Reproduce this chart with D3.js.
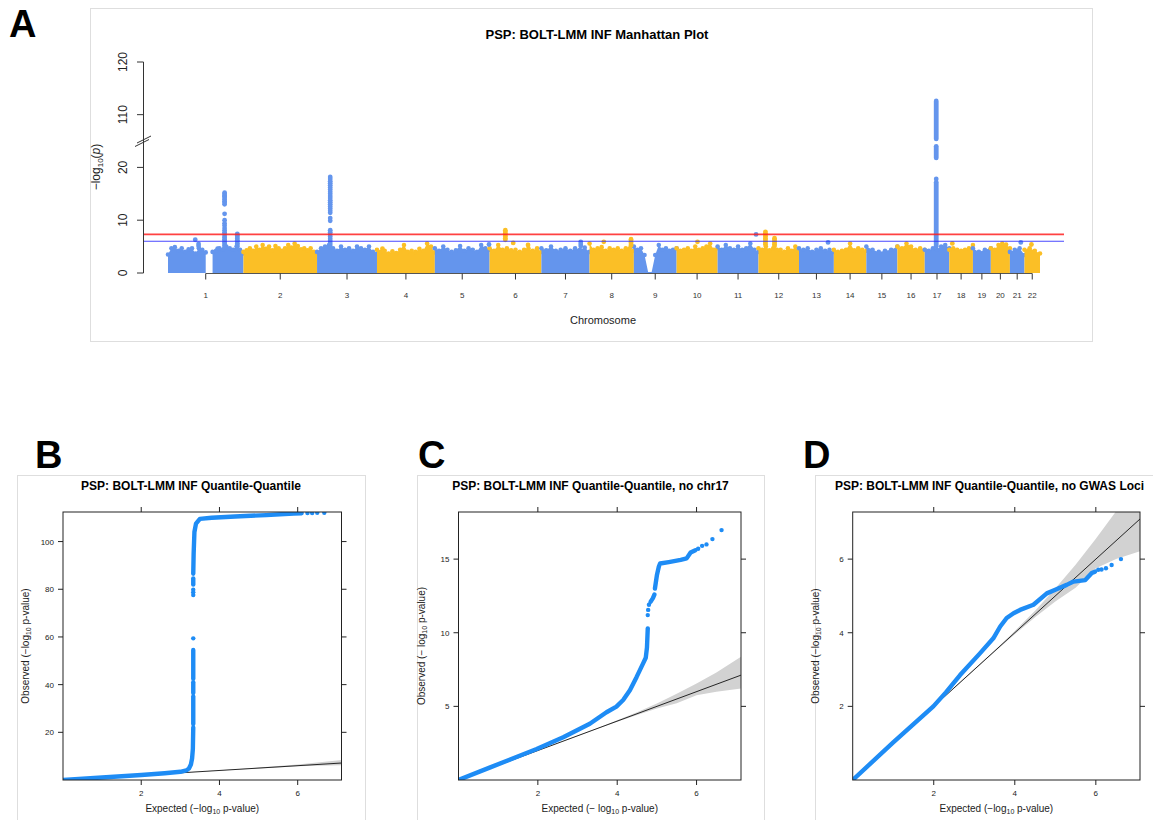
<!DOCTYPE html>
<html>
<head>
<meta charset="utf-8">
<script src="https://cdn.jsdelivr.net/npm/d3@7"></script>
<style>
  body { margin: 0; background: #fff; font-family: "Liberation Sans", Arial, sans-serif; }
</style>
</head>
<body>
<svg id="fig" width="1153" height="820"></svg>
<script>
// ---- données du Manhattan plot
const chromosomes = ["1","2","3","4","5","6","7","8","9","10","11","12","13","14","15","16","17","18","19","20","21","22"];
const tailles = [249.25,243.2,198.02,191.15,180.92,171.12,159.14,146.36,141.21,135.53,135.01,133.85,115.17,107.35,102.53,90.35,81.2,78.08,59.13,63.03,48.13,51.3]; // Mb
const couleurs = ["#6495ED", "#FBBF26"];

// hauteur de la masse de points le long de chaque chromosome (-log10 p), 0 = trou
const profils = [
  [3.5,4.7,4.9,4.2,4.7,4.0,4.5,4.7,3.7,4.7,4.4,3.9,0,4.0,4.2,4.7,4.4,5.0,4.7,4.4,5.0,4.4,3.7],
  [4.0,4.3,4.7,4.2,5.0,4.4,5.3,4.6,5.0,4.3,5.1,4.7,4.2,4.7,5.3,4.8,5.6,5.1,4.5,4.7,4.3,4.7,4.0,3.7],
  [4.0,4.7,5.0,5.3,4.7,4.2,5.0,4.4,4.7,4.2,5.0,4.7,4.4,5.0,4.0,3.7],
  [4.4,4.0,4.2,3.7,4.1,3.8,4.4,5.3,4.0,4.2,4.0,4.6,4.2,5.6,5.0,3.9],
  [4.7,4.2,5.0,4.4,4.0,4.3,5.1,4.2,4.7,4.4,4.0,5.3,4.7,4.4],
  [4.7,4.2,5.3,4.4,4.7,4.3,4.4,4.0,4.4,4.7,4.2,4.7,4.0],
  [4.7,4.3,5.0,4.2,4.4,4.7,4.2,4.7,4.4,4.8,4.0],
  [5.6,4.4,4.7,4.9,4.2,4.7,4.4,4.7,4.2,4.7,4.7,4.2],
  [5.0,4.4,4.7,3.4,0.2,0.2,3.4,5.3,4.4,4.7,4.2,4.4,4.7],
  [4.7,4.2,4.4,4.7,4.2,5.0,4.4,4.7,5.0,5.6,4.4,4.7],
  [5.0,4.4,5.3,4.7,4.4,5.0,4.4,4.7,5.6,4.4,4.0],
  [4.7,4.4,5.0,4.3,4.7,4.4,4.4,4.0,4.7,4.2,5.0,4.0],
  [4.7,4.4,4.7,4.0,4.4,4.7,4.2,4.4,4.0],
  [4.4,4.0,4.2,4.4,5.6,4.3,4.7,4.4,4.2],
  [5.0,4.4,4.0,4.2,4.4,5.0],
  [5.0,4.7,5.6,5.0,4.4,4.7,4.4],
  [4.4,4.2,4.7,4.4,5.0,5.3,4.7],
  [4.4,4.7,4.4,4.2,4.4,4.7,5.3],
  [4.7,4.0,4.4,4.7],
  [4.7,4.4,5.3,5.6,5.4,4.7],
  [4.0,4.4,4.7,3.4],
  [4.4,4.7,4.2,3.7]
];

// SNP isolés et pics : [chromosome, position (Mb), valeurs]
const pics = [
  [1, 90, [6.3]],
  [1, 101, [5.5, 5.1]],
  [1, 164, [4.6]],
  [1, 187, [15.2,15.0,14.7,14.5,14.2,13.9,13.6,13.3,13.0,11.2,10.0,9.4,9.0,8.5,8.1,7.7,7.4,7.0,6.7,6.4,6.1,5.8,5.5,5.2,4.9]],
  [1, 229, [7.4,7.1,6.8,6.5,6.2,5.9,5.6,5.3,5.0]],
  [3, 43.5, [18.2,17.8,17.4,17.0,16.6,16.2,15.8,15.4,15.0,14.6,14.2,13.8,13.4,13.0,12.6,12.2,11.8,11.4,10.4,9.9,8.1,7.7,7.3,6.9,6.5,6.1,5.7,5.3,4.9]],
  [4, 18, [4.6]],
  [5, 179, [5.4]],
  [6, 52, [8.1,7.8,7.5,7.2,6.9,6.6,6.3]],
  [6, 78, [5.7]],
  [6, 127, [5.3]],
  [7, 130, [5.9,5.5,5.1]],
  [8, 47, [5.9]],
  [8, 137, [6.4,6.1,5.8,5.5,5.2]],
  [10, 69, [5.9]],
  [11, 127, [7.3]],
  [12, 23, [7.8,7.5,7.2,6.9,6.6,6.3,6.0,5.7,5.4]],
  [12, 53, [6.6,6.3,6.0,5.7,5.4,5.1]],
  [13, 96, [5.8]],
  [17, 38, [17.8]],
  [18, 10, [5.6]],
  [21, 36, [5.8]],
  [22, 23, [5.4]]
];
// colonnes denses : [chromosome, position, bas, haut]
const colonnes = [
  [17, 38, 5.0, 17.2],
  [17, 38, 21.8, 24.0],
  [17, 38, 105.4, 112.6]
];
const seuilGenome = 7.3;
const seuilSuggestif = 6;
const ticksY_A = [0, 10, 20, 110, 120];

// ---- données des QQ plots
const bandeX    = [0, 3.5, 4, 4.5, 5, 5.5, 6, 6.5, 7.2];
const bandeHaut = [0, 3.52, 4.05, 4.6, 5.2, 5.85, 6.55, 7.3, 8.5];
const bandeBas  = [0, 3.48, 3.96, 4.42, 4.85, 5.22, 5.75, 6.0, 6.25];

const qqB_traits = [
  [[0,0],[1,1.05],[2,2.1],[2.6,2.85],[3.0,3.45],[3.15,4.0],[3.22,4.8],[3.27,6.5],[3.3,9],[3.32,13],[3.33,22]],
  [[3.33,23.5],[3.33,35]],
  [[3.33,36.5],[3.33,41]],
  [[3.33,42.5],[3.33,54.5]],
  [[3.33,82],[3.33,84.5]],
  [[3.33,86.5],[3.34,95],[3.36,104],[3.4,107.5],[3.5,109.5],[3.8,110],[4.4,110.5],[5.2,111.1],[5.9,111.8],[6.1,111.9]]
];
const qqB_points = [[3.33,59.4],[3.33,77.6],[3.33,78.7],[3.33,79.8],[6.25,112],[6.37,112],[6.5,112.05],[6.68,112.1]];

const qqC_traits = [
  [[0,0],[0.8,0.86],[1.97,2.1],[2.64,2.9],[3.31,3.82],[3.73,4.6],[3.98,4.98],[4.15,5.43],[4.32,6.1],[4.49,7.0],[4.65,7.9],[4.72,8.3],[4.75,9.0],[4.77,10.3]],
  [[4.84,12.1],[4.9,12.35],[4.94,12.6]],
  [[4.95,13.0],[5.0,13.9],[5.05,14.5],[5.08,14.7],[5.3,14.8],[5.6,14.95],[5.75,15.05],[5.85,15.45],[5.97,15.6]]
];
const qqC_points = [[4.77,11.2],[4.78,11.55],[4.8,11.9],[6.04,15.7],[6.14,15.9],[6.25,16.0],[6.4,16.36],[6.63,16.97]];

const qqD_traits = [
  [[0,0],[1.0,1.02],[1.99,2.0],[2.3,2.38],[2.65,2.85],[3.14,3.44],[3.47,3.85],[3.64,4.17],[3.8,4.4],[3.97,4.53],[4.13,4.62],[4.46,4.76],[4.79,5.07],[5.0,5.17],[5.28,5.3],[5.45,5.39],[5.74,5.43],[5.9,5.62],[5.98,5.66]]
];
const qqD_points = [[6.06,5.71],[6.14,5.72],[6.25,5.75],[6.39,5.84],[6.62,6.0]];

const svg = d3.select("#fig");
svg.append("rect").attr("width", 1153).attr("height", 820).attr("fill", "#fff");

// =================== Panneau A : Manhattan
const gA = svg.append("g");
gA.append("rect").attr("x", 90.5).attr("y", 8.5).attr("width", 1002).attr("height", 333)
  .attr("fill", "none").attr("stroke", "#dedede");
svg.append("text").attr("x", 9).attr("y", 37).attr("font-size", 38).attr("font-weight", "bold").text("A");

const debuts = Array.from(d3.cumsum([0, ...tailles]));
const total = d3.sum(tailles);
const x = d3.scaleLinear().domain([0, total]).range([168, 1040]);
const y = d3.scaleLinear().domain([0, 25, 105, 120]).range([273, 141, 141, 62]);

gA.append("text").attr("x", 597).attr("y", 39).attr("text-anchor", "middle")
  .attr("font-size", 13).attr("font-weight", "bold").text("PSP: BOLT-LMM INF Manhattan Plot");

// masse de points
const aire = d3.area().defined(d => d.v > 0).x(d => d.x).y0(y(0)).y1(d => y(d.v));
profils.forEach((prof, i) => {
  const pts = prof.map((v, j) => ({ x: x(debuts[i] + j / (prof.length - 1) * tailles[i]), v: v }));
  gA.append("path").datum(pts).attr("d", aire).attr("fill", couleurs[i % 2]);
  gA.append("g").selectAll("circle")
    .data(pts.filter(d => d.v > 1))
    .join("circle")
    .attr("cx", d => d.x).attr("cy", d => y(d.v)).attr("r", 2.3)
    .attr("fill", couleurs[i % 2]);
});

// colonnes denses
colonnes.forEach(c => {
  const cx = x(debuts[c[0] - 1] + c[1]);
  gA.append("line").attr("x1", cx).attr("x2", cx).attr("y1", y(c[2])).attr("y2", y(c[3]))
    .attr("stroke", couleurs[(c[0] - 1) % 2]).attr("stroke-width", 4.8).attr("stroke-linecap", "round");
});

// pics
pics.forEach(p => {
  const cx = x(debuts[p[0] - 1] + p[1]);
  gA.append("g").selectAll("circle")
    .data(p[2])
    .join("circle")
    .attr("cx", cx).attr("cy", d => y(d)).attr("r", 2.4)
    .attr("fill", couleurs[(p[0] - 1) % 2]);
});

// seuils
gA.append("line").attr("x1", 143).attr("x2", 1064).attr("y1", y(seuilGenome)).attr("y2", y(seuilGenome))
  .attr("stroke", "#ff2020").attr("stroke-width", 1.8).attr("opacity", 0.85);
gA.append("line").attr("x1", 143).attr("x2", 1064).attr("y1", y(seuilSuggestif)).attr("y2", y(seuilSuggestif))
  .attr("stroke", "#2a2aff").attr("stroke-width", 1.1).attr("opacity", 0.85);

// axe Y
gA.append("line").attr("x1", 143.5).attr("x2", 143.5).attr("y1", y(120)).attr("y2", y(0)).attr("stroke", "#333");
ticksY_A.forEach(t => {
  gA.append("line").attr("x1", 137).attr("x2", 143.5).attr("y1", y(t)).attr("y2", y(t)).attr("stroke", "#333");
  gA.append("text").attr("transform", `translate(127,${y(t)}) rotate(-90)`)
    .attr("text-anchor", "middle").attr("font-size", 12).attr("fill", "#222").text(t);
});
// coupure de l'axe
gA.append("line").attr("x1", 135).attr("y1", 146.5).attr("x2", 149).attr("y2", 139.5).attr("stroke", "#333");
gA.append("line").attr("x1", 137).attr("y1", 143).attr("x2", 151).attr("y2", 136).attr("stroke", "#333");

const labY = gA.append("text").attr("transform", "translate(100,167) rotate(-90)")
  .attr("text-anchor", "middle").attr("font-size", 12).attr("fill", "#222");
labY.append("tspan").text("\u2212log");
labY.append("tspan").attr("font-size", 8).attr("dy", 3).text("10");
labY.append("tspan").attr("dy", -3).text("(");
labY.append("tspan").attr("font-style", "italic").text("p");
labY.append("tspan").text(")");

// axe X
const milieux = chromosomes.map((c, i) => x(debuts[i] + tailles[i] / 2));
gA.append("line").attr("x1", milieux[0]).attr("x2", milieux[21]).attr("y1", 273.5).attr("y2", 273.5).attr("stroke", "#555");
gA.append("g").selectAll("line").data(milieux).join("line")
  .attr("x1", d => d).attr("x2", d => d).attr("y1", 273.5).attr("y2", 279.5).attr("stroke", "#333");
gA.append("g").selectAll("text").data(chromosomes).join("text")
  .attr("x", (d, i) => milieux[i]).attr("y", 298).attr("text-anchor", "middle")
  .attr("font-size", 8).attr("fill", "#333").text(d => d);
gA.append("text").attr("x", 603).attr("y", 324).attr("text-anchor", "middle")
  .attr("font-size", 11).attr("fill", "#222").text("Chromosome");

// =================== Panneaux QQ
const bleuQQ = "#1E8CF5";
const bande = bandeX.map((v, i) => [v, bandeBas[i], bandeHaut[i]]);

function panneauQQ(cfg) {
  const g = svg.append("g");
  g.append("rect").attr("x", cfg.cadre[0] + 0.5).attr("y", 475.5).attr("width", cfg.cadre[1] - cfg.cadre[0])
    .attr("height", 400).attr("fill", "none").attr("stroke", "#dedede");
  svg.append("text").attr("x", cfg.lettreX).attr("y", 468).attr("font-size", 38).attr("font-weight", "bold").text(cfg.lettre);
  g.append("text").attr("x", cfg.titreX).attr("y", 490).attr("text-anchor", "middle")
    .attr("font-size", 12).attr("font-weight", "bold").text(cfg.titre);

  const sx = d3.scaleLinear().domain([0, cfg.xMax]).range([cfg.x0, cfg.x1]);
  const sy = d3.scaleLinear().domain([0, cfg.yMax]).range([780, 512]);

  const idClip = "clip" + cfg.lettre;
  g.append("clipPath").attr("id", idClip).append("rect")
    .attr("x", cfg.x0).attr("y", 512).attr("width", cfg.x1 - cfg.x0).attr("height", 268);
  const gp = g.append("g").attr("clip-path", `url(#${idClip})`);

  gp.append("path").datum(bande)
    .attr("d", d3.area().x(d => sx(d[0])).y0(d => sy(d[1])).y1(d => sy(d[2])))
    .attr("fill", "#d2d2d2");
  gp.append("line").attr("x1", sx(0)).attr("y1", sy(0)).attr("x2", sx(cfg.xMax)).attr("y2", sy(cfg.xMax))
    .attr("stroke", "#111").attr("stroke-width", 0.9);

  const ligne = d3.line().x(d => sx(d[0])).y(d => sy(d[1]));
  gp.selectAll("path.trait").data(cfg.traits).join("path").attr("class", "trait")
    .attr("d", ligne).attr("fill", "none").attr("stroke", bleuQQ).attr("stroke-width", 4.4)
    .attr("stroke-linecap", "round").attr("stroke-linejoin", "round");
  gp.selectAll("circle").data(cfg.points).join("circle")
    .attr("cx", d => sx(d[0])).attr("cy", d => sy(d[1])).attr("r", 2.2).attr("fill", bleuQQ);

  g.append("rect").attr("x", cfg.x0).attr("y", 512).attr("width", cfg.x1 - cfg.x0).attr("height", 268)
    .attr("fill", "none").attr("stroke", "#222");

  cfg.ticksY.forEach(t => {
    g.append("line").attr("x1", cfg.x0 - 5).attr("x2", cfg.x0).attr("y1", sy(t)).attr("y2", sy(t)).attr("stroke", "#222");
    g.append("line").attr("x1", cfg.x1).attr("x2", cfg.x1 + 5).attr("y1", sy(t)).attr("y2", sy(t)).attr("stroke", "#222");
    g.append("text").attr("x", cfg.x0 - 9).attr("y", sy(t) + 3).attr("text-anchor", "end")
      .attr("font-size", 8).attr("fill", "#222").text(t);
  });
  [2, 4, 6].forEach(t => {
    g.append("line").attr("x1", sx(t)).attr("x2", sx(t)).attr("y1", 780).attr("y2", 785).attr("stroke", "#222");
    g.append("line").attr("x1", sx(t)).attr("x2", sx(t)).attr("y1", 507).attr("y2", 512).attr("stroke", "#222");
    g.append("text").attr("x", sx(t)).attr("y", 796).attr("text-anchor", "middle")
      .attr("font-size", 8).attr("fill", "#222").text(t);
  });

  const cx = (cfg.x0 + cfg.x1) / 2;
  const lx = g.append("text").attr("x", cx).attr("y", 812).attr("text-anchor", "middle")
    .attr("font-size", 10).attr("fill", "#222");
  lx.append("tspan").text("Expected (" + cfg.moins + "log");
  lx.append("tspan").attr("font-size", 7).attr("dy", 2).text("10");
  lx.append("tspan").attr("dy", -2).text(" p-value)");

  const ly = g.append("text").attr("transform", `translate(${cfg.x0 - 34},646) rotate(-90)`)
    .attr("text-anchor", "middle").attr("font-size", 10).attr("fill", "#222");
  ly.append("tspan").text("Observed (" + cfg.moins + "log");
  ly.append("tspan").attr("font-size", 7).attr("dy", 2).text("10");
  ly.append("tspan").attr("dy", -2).text(" p-value)");
}

panneauQQ({
  lettre: "B", lettreX: 35, cadre: [17, 365], titreX: 191,
  titre: "PSP: BOLT-LMM INF Quantile-Quantile",
  x0: 63, x1: 341.5, xMax: 7.12, yMax: 112.4, ticksY: [20, 40, 60, 80, 100],
  traits: qqB_traits, points: qqB_points, moins: "\u2212"
});
panneauQQ({
  lettre: "C", lettreX: 418, cadre: [417, 764], titreX: 590.5,
  titre: "PSP: BOLT-LMM INF Quantile-Quantile, no chr17",
  x0: 458.5, x1: 741, xMax: 7.12, yMax: 18.2, ticksY: [5, 10, 15],
  traits: qqC_traits, points: qqC_points, moins: "\u2212 "
});
panneauQQ({
  lettre: "D", lettreX: 803, cadre: [815, 1160], titreX: 989.5,
  titre: "PSP: BOLT-LMM INF Quantile-Quantile, no GWAS Loci",
  x0: 852.7, x1: 1140, xMax: 7.09, yMax: 7.28, ticksY: [2, 4, 6],
  traits: qqD_traits, points: qqD_points, moins: "\u2212"
});
</script>
</body>
</html>
